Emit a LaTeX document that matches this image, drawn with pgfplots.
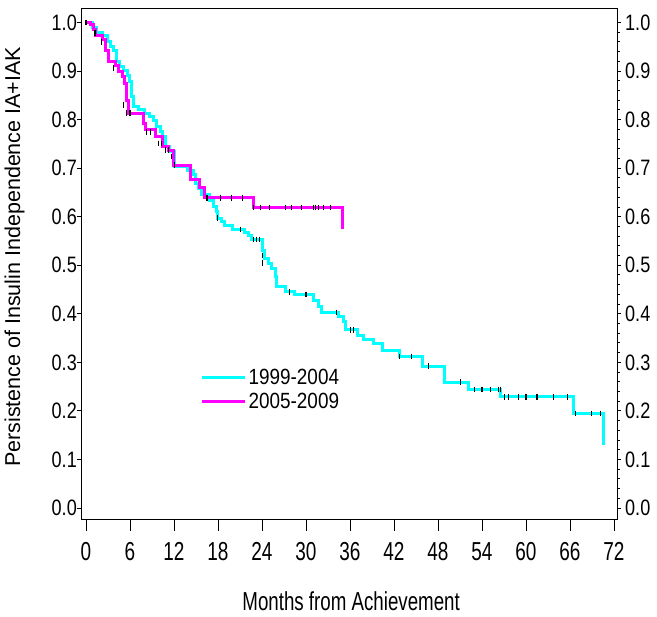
\documentclass[border=0pt]{standalone}
\usepackage{pgfplots}
\pgfplotsset{compat=1.18}
\usepackage{fontspec}
\setmainfont{Liberation Sans}
\newfontfamily\xtickf{Liberation Sans}[FakeStretch=0.73]
\newfontfamily\ytickf{Liberation Sans}[FakeStretch=0.81]
\newfontfamily\legf{Liberation Sans}[FakeStretch=0.86]
\newfontfamily\xlabf{Liberation Sans}[FakeStretch=0.72]
\definecolor{cy}{RGB}{0,255,255}
\definecolor{mg}{RGB}{255,0,255}

\pgfplotstableread{
m s
0 1.0
0.9 0.99
1.5 0.98
2.2 0.974
3.0 0.96
3.4 0.95
3.7 0.943
4.2 0.919
4.6 0.91
5.1 0.902
5.6 0.89
6.0 0.878
6.2 0.847
6.5 0.827
7.2 0.82
8.0 0.813
8.7 0.806
9.2 0.799
9.6 0.785
10.1 0.775
10.5 0.765
10.9 0.744
11.45 0.734
12.1 0.703
13.8 0.696
14.6 0.686
14.9 0.669
15.3 0.658
15.8 0.645
16.9 0.634
17.4 0.621
17.8 0.610
18.0 0.597
18.5 0.590
18.95 0.581
20.0 0.574
21.6 0.567
22.1 0.562
22.6 0.553
24.1 0.531
24.4 0.514
24.9 0.504
25.3 0.494
25.8 0.476
26.0 0.456
27.2 0.445
28.4 0.440
31.0 0.428
31.7 0.415
32.1 0.403
34.5 0.394
35.1 0.384
35.4 0.367
37.0 0.356
37.9 0.347
39.2 0.339
40.4 0.324
42.7 0.312
45.9 0.292
48.9 0.259
52.1 0.244
56.5 0.229
66.5 0.195
70.6 0.130
}\cyandata

\pgfplotstableread{
m s
0 1.0
0.55 0.995
1.0 0.985
1.3 0.974
2.2 0.964
2.6 0.943
3.1 0.919
4.0 0.912
4.5 0.90
5.0 0.888
5.3 0.875
5.5 0.84
5.8 0.813
7.8 0.792
8.1 0.78
9.5 0.765
10.5 0.744
11.2 0.737
12.0 0.706
14.3 0.676
15.5 0.661
16.1 0.639
22.8 0.619
35.0 0.575
}\magdata

\pgfplotstableread{
m s
0 1.0
1.23 0.978
2.1 0.960
3.7 0.906
5.1 0.830
5.55 0.813
6.0 0.813
8.3 0.775
8.8 0.775
9.9 0.751
10.3 0.751
10.8 0.737
11.2 0.737
11.7 0.724
12.1 0.706
16.5 0.639
18.4 0.639
19.8 0.639
21.3 0.639
22.8 0.619
23.8 0.619
25.0 0.619
27.2 0.619
28.0 0.619
29.4 0.619
31.0 0.619
31.3 0.619
31.7 0.619
32.4 0.619
33.4 0.619
17.9 0.597
21.1 0.574
22.8 0.553
23.3 0.553
23.7 0.553
24.1 0.520
24.1 0.505
27.8 0.445
30.0 0.440
34.1 0.403
36.1 0.367
36.5 0.367
42.7 0.312
44.4 0.312
46.7 0.292
51.1 0.259
53.0 0.244
54.0 0.244
55.1 0.244
56.2 0.244
56.5 0.244
57.1 0.229
57.6 0.229
59.0 0.229
60.0 0.229
61.5 0.229
63.7 0.229
65.6 0.229
66.8 0.195
68.9 0.195
70.2 0.195
}\censdata

\begin{document}
\begin{tikzpicture}
\useasboundingbox (-81pt,-98pt) rectangle (576pt,519pt);
\pgfplotsset{
  base/.style={at={(0pt,0pt)}, anchor=south west, scale only axis,
    width=536pt, height=511pt,
    xmin=-0.68, xmax=72.41, ymin=-0.0227, ymax=1.0299,
    axis line style={line width=0.9pt},
    every tick/.style={black, line width=0.9pt},
    tick align=outside},
  yt/.style={ytick={0,0.1,0.2,0.3,0.4,0.5,0.6,0.7,0.8,0.9,1.0},
    yticklabels={0.0,0.1,0.2,0.3,0.4,0.5,0.6,0.7,0.8,0.9,1.0},
    yticklabel style={font=\ytickf\fontsize{22.3}{26}\selectfont, inner sep=0pt}}
}
\begin{axis}[base,
  xtick={0,6,12,18,24,30,36,42,48,54,60,66,72},
  xticklabels={0,6,12,18,24,30,36,42,48,54,60,66,72},
  ytick=\empty, xtick pos=bottom, major tick length=12pt,
  xticklabel style={font=\xtickf\fontsize{26}{30}\selectfont, inner sep=0pt, anchor=north, yshift=-11pt},
  xlabel={Months from Achievement},
  xlabel style={font=\xlabf\fontsize{26}{30}\selectfont, at={(axis description cs:0.504,-0.180)}, anchor=base, inner sep=0pt},
  ylabel={Persistence of Insulin Independence IA+IAK},
  ylabel style={font=\fontsize{21.5}{25}\selectfont, at={(axis description cs:-0.1138,0.513)}, anchor=base, inner sep=0pt},
  legend style={draw=none, fill=none, at={(axis cs:15.6,0.29)}, anchor=north west,
    font=\legf\fontsize{22}{24}\selectfont, inner sep=0pt, row sep=3pt, cells={anchor=west}},
  legend image code/.code={\draw[#1,line width=3pt] (0pt,0pt) -- (43pt,0pt);},
]
\addplot[cy, line width=3pt, const plot] table[x=m,y=s] {\cyandata};
\addlegendentry{1999-2004}
\addplot[mg, line width=3pt, const plot] table[x=m,y=s] {\magdata};
\addlegendentry{2005-2009}
\addplot[only marks, mark=|, mark size=2.8pt, black, mark options={line width=1.1pt}, forget plot] table[x=m,y=s] {\censdata};
\end{axis}
\begin{axis}[base, yt, axis x line=none, axis y line*=left, major tick length=4pt]
\end{axis}
\begin{axis}[base, yt, axis x line=none, axis y line*=right, major tick length=4pt,
  minor y tick num=4, minor tick length=2.5pt, yticklabel style={xshift=4pt}]
\end{axis}
\end{tikzpicture}
\end{document}
